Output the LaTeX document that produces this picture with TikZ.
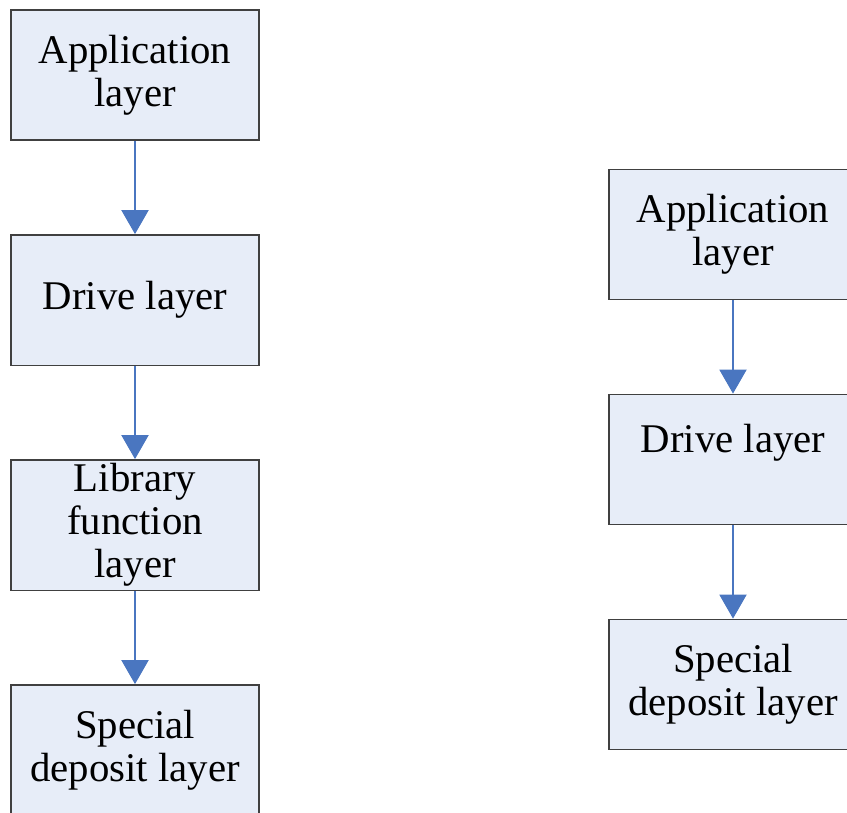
\documentclass[tikz,border=0pt]{standalone}
\usepackage{fontspec}
\setmainfont{Liberation Serif}
\usepackage{tikz}
\usetikzlibrary{arrows.meta,positioning}
\definecolor{layerfill}{HTML}{E7EDF8}
\definecolor{layerdraw}{HTML}{404040}
\definecolor{linkblue}{HTML}{4A76C0}

\begin{document}
\begin{tikzpicture}[font=\fontsize{29}{30.5}\selectfont,
  node distance=2.33cm,
  layer/.style={draw=layerdraw,line width=1pt,fill=layerfill,align=center,
    minimum width=6.2cm,minimum height=3.26cm,inner sep=0pt},
  link/.style={draw=linkblue,line width=0.9pt,-{Triangle[width=0.68cm,length=0.6cm]}}]
  \clip (0,0) rectangle (21.175,-20.325);
  % left stack
  \node[layer] (appL) at (3.375,-1.875) {Application\\layer};
  \node[layer,below=of appL] (drvL) {Drive layer};
  \node[layer,below=of drvL] (libL) {Library\\function\\layer};
  \node[layer,below=of libL] (spcL) {Special\\deposit layer};
  % right stack
  \node[layer] (appR) at (18.325,-5.8625) {Application\\layer};
  \node[layer,below=of appR] (drvR) {Drive layer\\\mbox{}};
  \node[layer,below=of drvR] (spcR) {Special\\deposit layer};
  \draw[link] (appL) -- (drvL);
  \draw[link] (drvL) -- (libL);
  \draw[link] (libL) -- (spcL);
  \draw[link] (appR) -- (drvR);
  \draw[link] (drvR) -- (spcR);
\end{tikzpicture}
\end{document}
